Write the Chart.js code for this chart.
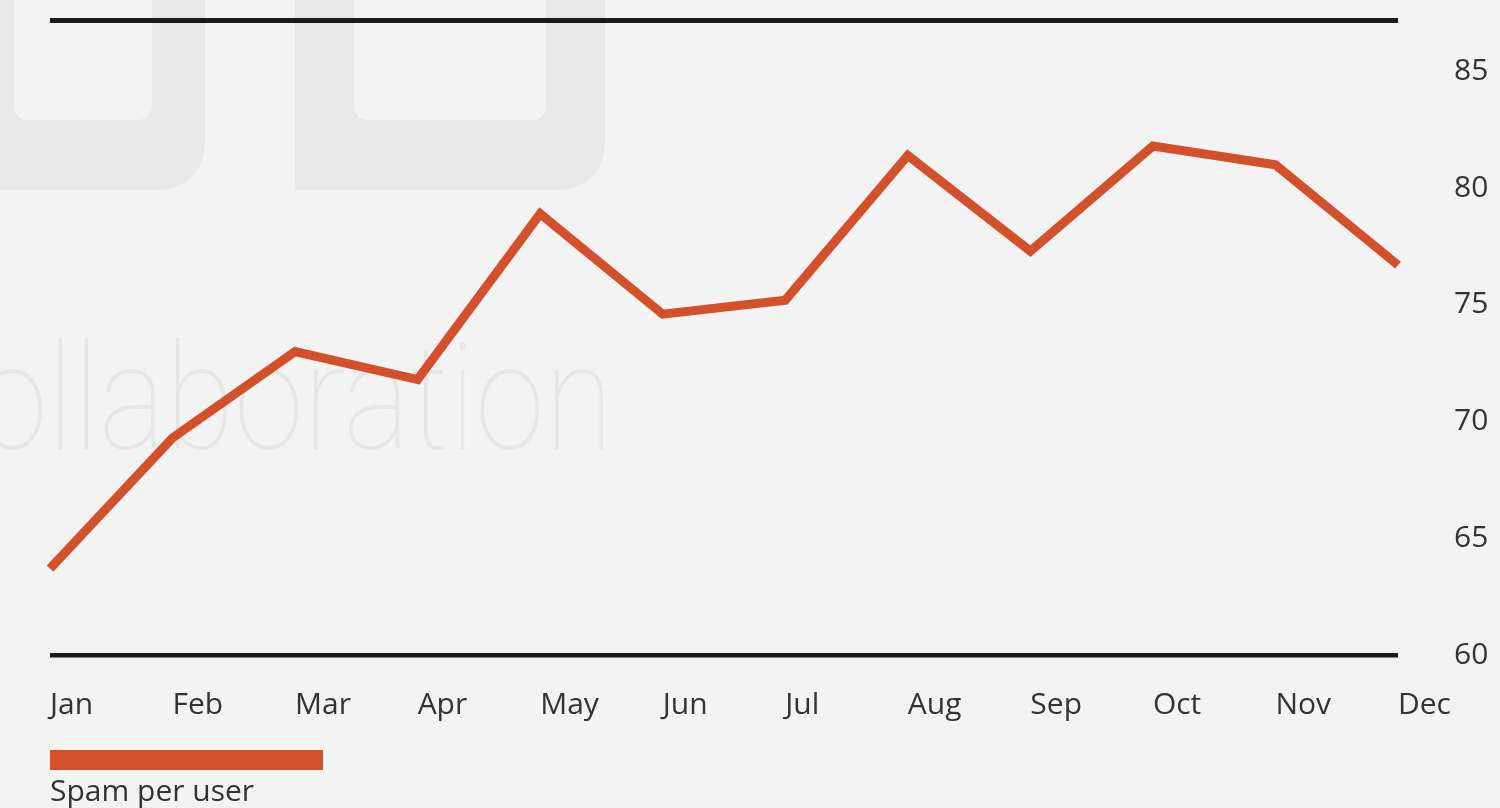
<!DOCTYPE html>
<html lang="en">

<head>
  <meta charset="UTF-8">
  <title>Spam per user</title>
  <script src="https://cdn.jsdelivr.net/npm/chart.js"></script>
  <style>
    html, body {
      margin: 0;
      padding: 0;
      background: #f3f3f3;
    }
    .wrap {
      position: relative;
      width: 1500px;
      height: 808px;
    }
  </style>
</head>

<body>
  <div class="wrap">
    <canvas id="myChart" width="1500" height="808"></canvas>
  </div>

  <script>
    // data
    const months = ['Jan', 'Feb', 'Mar', 'Apr', 'May', 'Jun', 'Jul', 'Aug', 'Sep', 'Oct', 'Nov', 'Dec'];
    const spamPerUser = [63.7, 69.3, 73.0, 71.8, 78.9, 74.6, 75.2, 81.4, 77.3, 81.8, 81.0, 76.7];
    const yTicks = [60, 65, 70, 75, 80, 85];
    const yMin = 60;
    const yMax = 87.2;
    const seriesName = 'Spam per user';

    const orange = '#d4502a';
    const ink = '#333333';

    // faint watermark in the background
    const watermark = {
      id: 'watermark',
      beforeDraw(chart) {
        const ctx = chart.ctx;
        ctx.save();
        ctx.fillStyle = '#f3f3f3';
        ctx.fillRect(0, 0, chart.width, chart.height);

        ctx.fillStyle = '#e8e8e8';
        // two letter bottoms ("DB")
        ctx.beginPath();
        ctx.roundRect(-60, -60, 265, 250, [0, 0, 45, 0]);
        ctx.roundRect(14, -60, 138, 180, [0, 0, 14, 14]);
        ctx.fill('evenodd');
        ctx.beginPath();
        ctx.roundRect(295, -60, 310, 250, [0, 0, 45, 0]);
        ctx.roundRect(354, -60, 192, 180, [0, 0, 14, 14]);
        ctx.fill('evenodd');

        ctx.fillStyle = '#e6e6e6';
        ctx.font = '100 148px Roboto';
        ctx.textBaseline = 'alphabetic';
        ctx.translate(-22, 449);
        ctx.scale(0.85, 1);
        ctx.fillText('ollaboration', 0, 0);
        ctx.restore();
      }
    };

    // legend: wide swatch with the name below
    const legendBar = {
      id: 'legendBar',
      afterDraw(chart) {
        const ctx = chart.ctx;
        const ds = chart.data.datasets[0];
        ctx.save();
        ctx.fillStyle = ds.borderColor;
        ctx.fillRect(50, 750, 273, 20);
        ctx.fillStyle = ink;
        ctx.font = '30px "Open Sans"';
        ctx.textBaseline = 'alphabetic';
        ctx.fillText(ds.label, 50, 801);
        ctx.restore();
      }
    };

    const ctx = document.getElementById('myChart').getContext('2d');
    const myChart = new Chart(ctx, {
      type: 'line',
      data: {
        labels: months,
        datasets: [{
          label: seriesName,
          data: spamPerUser,
          borderColor: orange,
          backgroundColor: orange,
          borderWidth: 9,
          pointRadius: 0,
          tension: 0,
          fill: false
        }]
      },
      options: {
        responsive: false,
        animation: false,
        layout: {
          padding: { left: 50, top: 20, right: 0, bottom: 80 }
        },
        plugins: {
          legend: { display: false },
          tooltip: { enabled: false }
        },
        scales: {
          x: {
            offset: false,
            grid: { display: false, drawTicks: false },
            border: { display: false },
            ticks: {
              align: 'start',
              padding: 32,
              color: ink,
              font: { family: 'Open Sans', size: 30 }
            },
            afterFit: axis => {
              axis.height = 73;
              axis.paddingLeft = 0;
              axis.paddingRight = 0;
            }
          },
          y: {
            position: 'right',
            min: yMin,
            max: yMax,
            afterBuildTicks: axis => {
              axis.ticks = yTicks.concat([yMax]).map(v => ({ value: v }));
            },
            afterFit: axis => {
              axis.width = 102;
              axis.paddingTop = 0;
              axis.paddingBottom = 0;
            },
            grid: {
              drawTicks: false,
              color: c => (c.tick.value === yMin || c.tick.value === yMax) ? '#1b1b1b' : 'rgba(0,0,0,0)',
              lineWidth: c => c.tick.value === yMax ? 5 : 4.5
            },
            border: { display: false },
            ticks: {
              padding: 56,
              color: ink,
              font: { family: 'Open Sans', size: 30 },
              callback: v => (v === yMax ? '' : v)
            }
          }
        }
      },
      plugins: [watermark, legendBar]
    });
  </script>
</body>

</html>
